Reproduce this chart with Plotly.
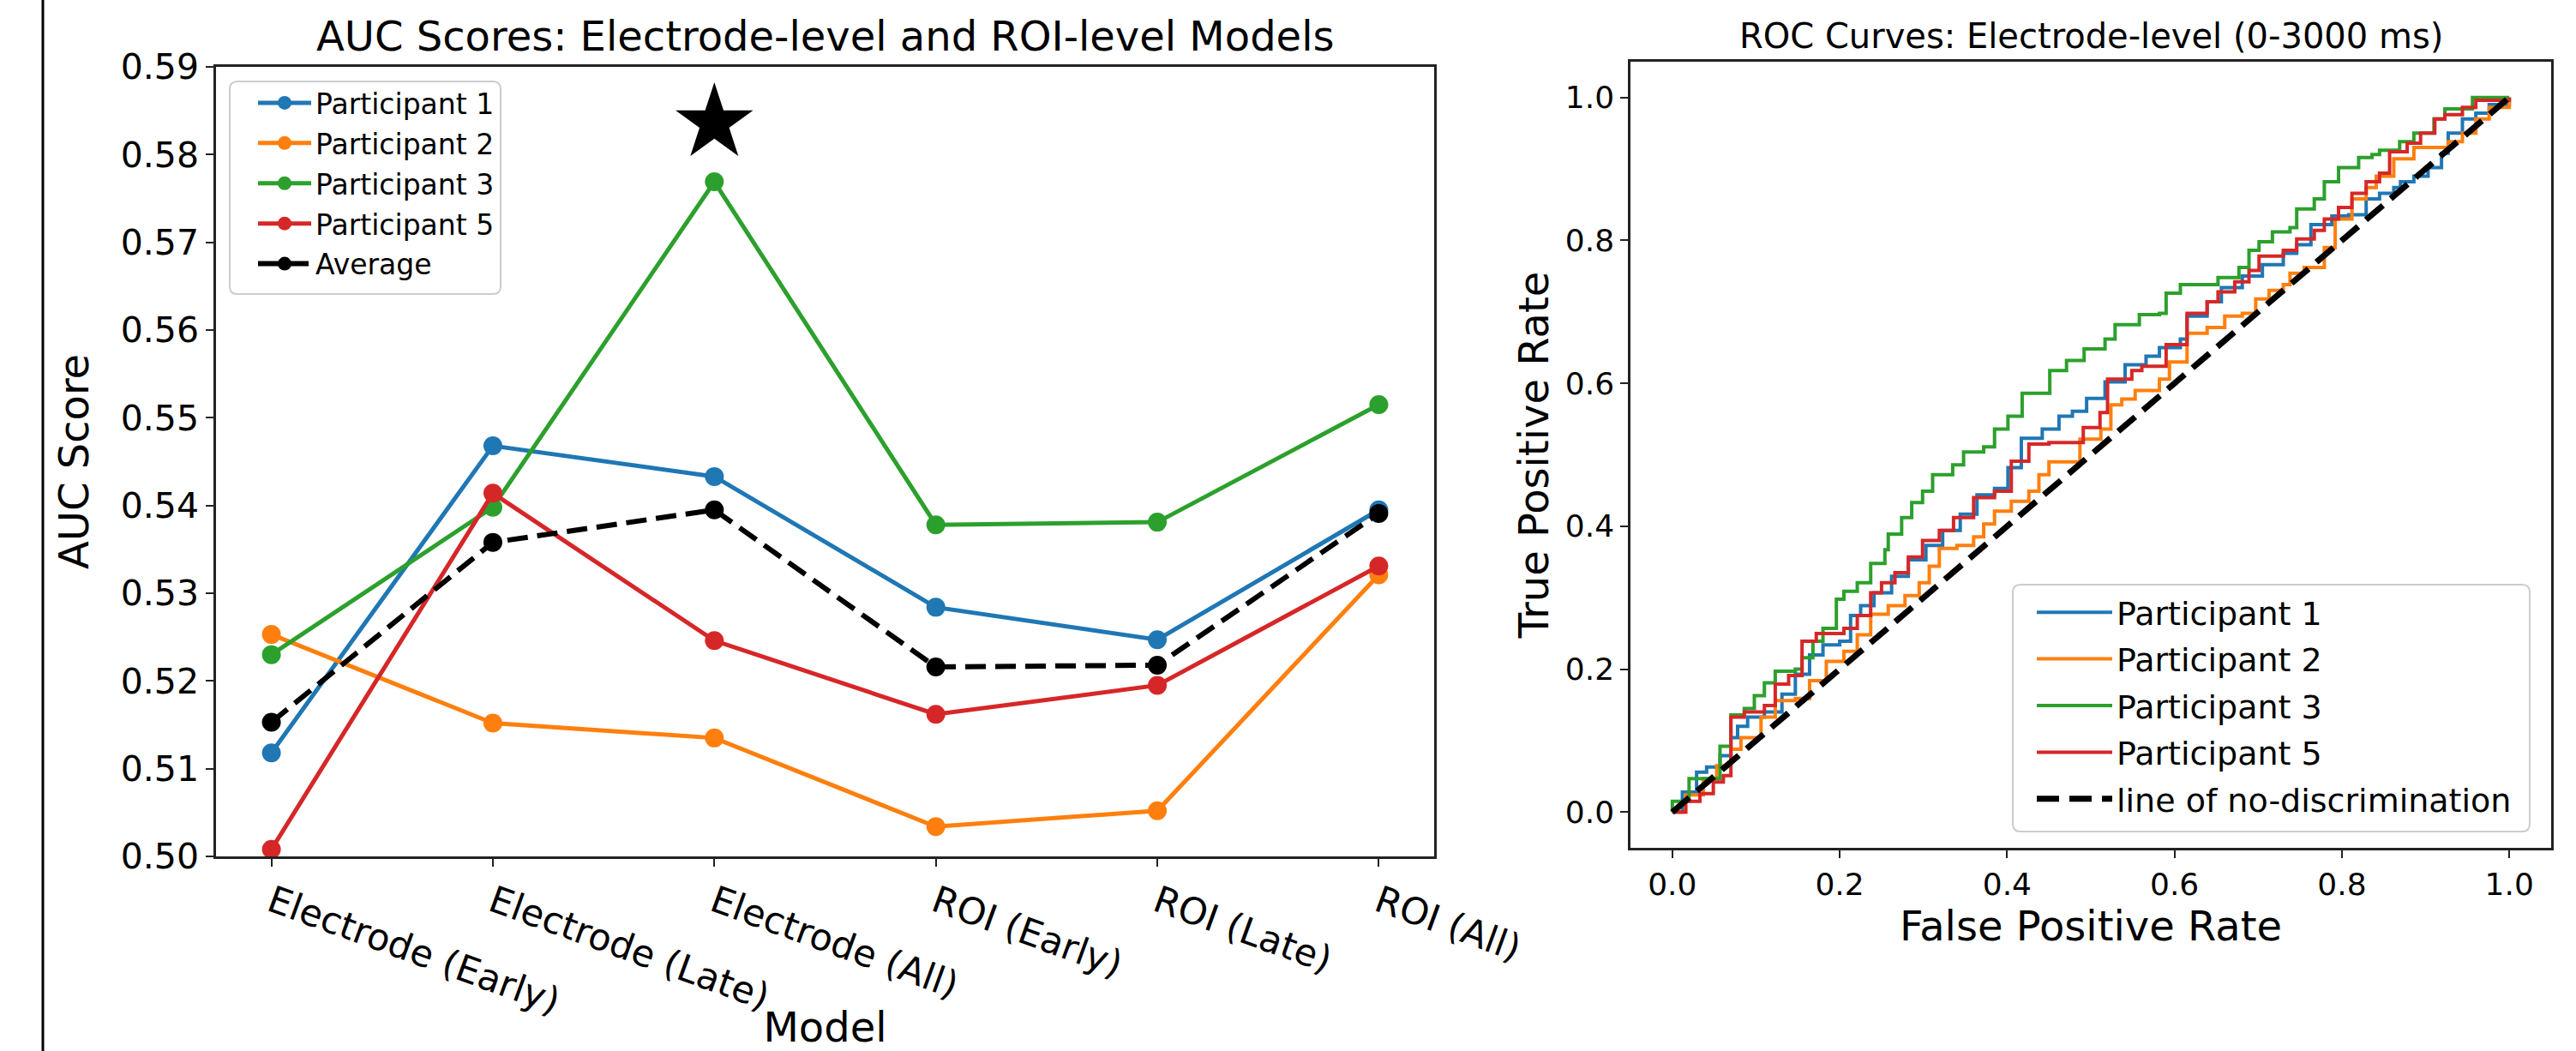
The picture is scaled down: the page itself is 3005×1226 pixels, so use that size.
import plotly.graph_objects as go

# ---------------- data: left panel (AUC scores) ----------------
models = ["Electrode (Early)", "Electrode (Late)", "Electrode (All)",
          "ROI (Early)", "ROI (Late)", "ROI (All)"]
auc_p1 = [0.5118, 0.5468, 0.5433, 0.5284, 0.5247, 0.5395]
auc_p2 = [0.5253, 0.5152, 0.5135, 0.5034, 0.5052, 0.5321]
auc_p3 = [0.5230, 0.5398, 0.5769, 0.5378, 0.5381, 0.5515]
auc_p5 = [0.5008, 0.5414, 0.5246, 0.5162, 0.5195, 0.5331]
auc_avg = [0.5153, 0.5358, 0.5395, 0.5216, 0.5218, 0.5391]
star_model = "Electrode (All)"
star_y = 0.5836
auc_yticks = [0.50, 0.51, 0.52, 0.53, 0.54, 0.55, 0.56, 0.57, 0.58, 0.59]

# ---------------- data: right panel (ROC curves) ----------------
roc_p1_fpr = [0.0, 0.012, 0.029, 0.041, 0.057, 0.070, 0.078, 0.090, 0.110, 0.131, 0.147, 0.164,
              0.180, 0.200, 0.213, 0.225, 0.241, 0.262, 0.282, 0.303, 0.323, 0.344, 0.364, 0.385,
              0.401, 0.417, 0.442, 0.462, 0.478, 0.495, 0.517, 0.541, 0.566, 0.582, 0.607, 0.615,
              0.639, 0.656, 0.681, 0.705, 0.730, 0.746, 0.763, 0.788, 0.808, 0.829, 0.845, 0.862,
              0.870, 0.886, 0.903, 0.919, 0.927, 0.944, 0.960, 0.976, 1.0]
roc_p1_tpr = [0.0, 0.028, 0.056, 0.063, 0.079, 0.104, 0.120, 0.133, 0.140, 0.165, 0.193, 0.220,
              0.234, 0.239, 0.275, 0.289, 0.307, 0.330, 0.353, 0.373, 0.394, 0.417, 0.444, 0.453,
              0.482, 0.523, 0.536, 0.554, 0.561, 0.579, 0.602, 0.626, 0.638, 0.650, 0.662, 0.694,
              0.714, 0.734, 0.750, 0.766, 0.782, 0.794, 0.822, 0.834, 0.836, 0.858, 0.866, 0.874,
              0.882, 0.890, 0.902, 0.922, 0.950, 0.970, 0.978, 0.990, 1.0]

roc_p2_fpr = [0.0, 0.016, 0.037, 0.053, 0.070, 0.082, 0.098, 0.106, 0.123, 0.147, 0.164, 0.184,
              0.205, 0.221, 0.237, 0.258, 0.278, 0.295, 0.307, 0.319, 0.340, 0.360, 0.372, 0.385,
              0.405, 0.426, 0.438, 0.450, 0.475, 0.487, 0.512, 0.524, 0.537, 0.553, 0.582, 0.594,
              0.615, 0.639, 0.660, 0.681, 0.697, 0.713, 0.730, 0.738, 0.755, 0.767, 0.779, 0.792,
              0.812, 0.829, 0.841, 0.862, 0.886, 0.927, 0.944, 0.960, 0.976, 1.0]
roc_p2_tpr = [0.0, 0.024, 0.047, 0.065, 0.088, 0.104, 0.104, 0.133, 0.156, 0.159, 0.184, 0.211,
              0.225, 0.248, 0.277, 0.289, 0.303, 0.321, 0.344, 0.369, 0.373, 0.385, 0.403, 0.421,
              0.435, 0.449, 0.472, 0.490, 0.490, 0.522, 0.536, 0.570, 0.578, 0.590, 0.606, 0.630,
              0.670, 0.678, 0.694, 0.698, 0.718, 0.730, 0.738, 0.754, 0.762, 0.762, 0.790, 0.830,
              0.858, 0.874, 0.890, 0.914, 0.930, 0.938, 0.950, 0.970, 0.986, 1.0]

roc_p3_fpr = [0.0, 0.0, 0.020, 0.057, 0.070, 0.086, 0.098, 0.110, 0.123, 0.147, 0.155, 0.168,
              0.180, 0.196, 0.205, 0.221, 0.237, 0.254, 0.258, 0.270, 0.274, 0.286, 0.299, 0.311,
              0.335, 0.348, 0.372, 0.385, 0.401, 0.418, 0.451, 0.471, 0.492, 0.517, 0.529, 0.558,
              0.582, 0.590, 0.607, 0.644, 0.652, 0.677, 0.689, 0.701, 0.717, 0.738, 0.746, 0.767,
              0.779, 0.796, 0.820, 0.836, 0.845, 0.869, 0.886, 0.910, 0.923, 0.956, 1.0]
roc_p3_tpr = [0.0, 0.015, 0.047, 0.092, 0.136, 0.145, 0.163, 0.181, 0.197, 0.200, 0.216, 0.239,
              0.257, 0.298, 0.309, 0.321, 0.348, 0.367, 0.389, 0.389, 0.412, 0.433, 0.449, 0.472,
              0.486, 0.504, 0.511, 0.536, 0.554, 0.586, 0.618, 0.632, 0.648, 0.662, 0.682, 0.696,
              0.698, 0.726, 0.738, 0.738, 0.748, 0.762, 0.786, 0.798, 0.812, 0.818, 0.844, 0.858,
              0.882, 0.902, 0.916, 0.920, 0.926, 0.938, 0.950, 0.970, 0.984, 1.0, 1.0]

roc_p5_fpr = [0.0, 0.016, 0.033, 0.049, 0.061, 0.070, 0.086, 0.110, 0.123, 0.139, 0.155, 0.172,
              0.205, 0.221, 0.237, 0.250, 0.266, 0.282, 0.299, 0.319, 0.336, 0.360, 0.385, 0.405,
              0.426, 0.450, 0.491, 0.511, 0.520, 0.549, 0.561, 0.590, 0.615, 0.639, 0.652, 0.672,
              0.689, 0.701, 0.730, 0.746, 0.767, 0.779, 0.796, 0.812, 0.829, 0.845, 0.857, 0.878,
              0.894, 0.911, 0.923, 0.944, 0.960, 1.0]
roc_p5_tpr = [0.0, 0.015, 0.026, 0.042, 0.051, 0.133, 0.140, 0.149, 0.179, 0.191, 0.239, 0.250,
              0.257, 0.275, 0.307, 0.321, 0.335, 0.357, 0.380, 0.394, 0.412, 0.440, 0.449, 0.491,
              0.515, 0.517, 0.538, 0.559, 0.606, 0.618, 0.624, 0.654, 0.698, 0.714, 0.728, 0.742,
              0.758, 0.778, 0.786, 0.802, 0.814, 0.830, 0.846, 0.866, 0.882, 0.894, 0.924, 0.936,
              0.950, 0.970, 0.976, 0.986, 0.996, 1.0]

chance_x = [0.0, 1.0]
chance_y = [0.0, 1.0]
roc_ticks = [0.0, 0.2, 0.4, 0.6, 0.8, 1.0]

# ---------------- styling ----------------
W, H = 3005, 1226
C_BLUE, C_ORANGE, C_GREEN, C_RED = "#1f77b4", "#ff7f0e", "#2ca02c", "#d62728"
FONT = "DejaVu Sans"

def px_x(p):
    return p / W

def px_y(p):
    return 1 - p / H

def rounded_box(x0, y0, x1, y1, r=9):
    """Rounded rectangle path in paper coords from pixel box (top-left origin)."""
    rx, ry = r / W, r / H
    X0, X1 = px_x(x0), px_x(x1)
    Yt, Yb = px_y(y0), px_y(y1)
    return (f"M{X0 + rx},{Yt} L{X1 - rx},{Yt} Q{X1},{Yt} {X1},{Yt - ry} "
            f"L{X1},{Yb + ry} Q{X1},{Yb} {X1 - rx},{Yb} L{X0 + rx},{Yb} "
            f"Q{X0},{Yb} {X0},{Yb + ry} L{X0},{Yt - ry} Q{X0},{Yt} {X0 + rx},{Yt} Z")

L_DOM_X = [px_x(252), px_x(1673)]
L_DOM_Y = [px_y(999), px_y(78)]
R_DOM_X = [px_x(1902), px_x(2976)]
R_DOM_Y = [px_y(989), px_y(72)]

fig = go.Figure()

left_series = [
    ("Participant 1", auc_p1, C_BLUE, None, 5),
    ("Participant 2", auc_p2, C_ORANGE, None, 5),
    ("Participant 3", auc_p3, C_GREEN, None, 5),
    ("Participant 5", auc_p5, C_RED, None, 5),
    ("Average", auc_avg, "black", "24px,11px", 6),
]
for i, (name, vals, col, dash, lw) in enumerate(left_series):
    fig.add_trace(go.Scatter(
        x=models, y=vals, name=name, mode="lines+markers",
        line=dict(color=col, width=lw, dash=dash if dash else "solid"),
        marker=dict(color=col, size=22),
        xaxis="x", yaxis="y", legend="legend", legendgroup=f"l{i}",
    ))

fig.add_trace(go.Scatter(
    x=[star_model], y=[star_y], mode="markers", showlegend=False,
    marker=dict(symbol="star", size=68, color="black"),
    xaxis="x", yaxis="y", hoverinfo="skip",
))

right_series = [
    ("Participant 1", roc_p1_fpr, roc_p1_tpr, C_BLUE),
    ("Participant 2", roc_p2_fpr, roc_p2_tpr, C_ORANGE),
    ("Participant 3", roc_p3_fpr, roc_p3_tpr, C_GREEN),
    ("Participant 5", roc_p5_fpr, roc_p5_tpr, C_RED),
]
for i, (name, fx, ty, col) in enumerate(right_series):
    fig.add_trace(go.Scatter(
        x=fx, y=ty, name=name, mode="lines",
        line=dict(color=col, width=4, shape="hv"),
        xaxis="x2", yaxis="y2", legend="legend2", legendgroup=f"r{i}",
    ))
fig.add_trace(go.Scatter(
    x=chance_x, y=chance_y, name="line of no-discrimination", mode="lines",
    line=dict(color="black", width=7, dash="26px,12px"),
    xaxis="x2", yaxis="y2", legend="legend2", legendgroup="r9",
))

axis_common = dict(
    showgrid=False, zeroline=False, showline=True, mirror=True, automargin=False,
    linecolor="#222", linewidth=2.5, ticks="outside", ticklen=9, tickwidth=2,
    tickcolor="#222",
)

fig.update_layout(
    width=W, height=H,
    margin=dict(l=0, r=0, t=0, b=0, autoexpand=False),
    paper_bgcolor="white", plot_bgcolor="white",
    font=dict(family=FONT, color="black"),
    xaxis=dict(
        domain=L_DOM_X, anchor="y", type="category",
        categoryorder="array", categoryarray=models,
        range=[-0.25, len(models) - 0.75], tickangle=20,
        tickfont=dict(size=43),
        title=dict(text="Model", font=dict(size=48), standoff=8),
        **axis_common,
    ),
    yaxis=dict(
        domain=L_DOM_Y, anchor="x", range=[0.50, 0.59],
        tickvals=auc_yticks, tickformat=".2f", tickfont=dict(size=41),
        title=dict(text="AUC Score", font=dict(size=48), standoff=22),
        **axis_common,
    ),
    xaxis2=dict(
        domain=R_DOM_X, anchor="y2", range=[-0.05, 1.05],
        tickvals=roc_ticks, tickformat=".1f", tickfont=dict(size=36),
        title=dict(text="False Positive Rate", font=dict(size=48), standoff=0),
        **axis_common,
    ),
    yaxis2=dict(
        domain=R_DOM_Y, anchor="x2", range=[-0.05, 1.05],
        tickvals=roc_ticks, tickformat=".1f", tickfont=dict(size=36),
        title=dict(text="True Positive Rate", font=dict(size=48), standoff=4),
        **axis_common,
    ),
    legend=dict(
        x=px_x(296), y=px_y(92), xanchor="left", yanchor="top",
        bgcolor="rgba(0,0,0,0)", borderwidth=0,
        font=dict(size=33, color="black"), itemwidth=62,
        tracegroupgap=1,
    ),
    legend2=dict(
        x=px_x(2371), y=px_y(683), xanchor="left", yanchor="top",
        bgcolor="rgba(0,0,0,0)", borderwidth=0,
        font=dict(size=38, color="black"), itemwidth=88,
        tracegroupgap=2,
    ),
    showlegend=True,
    annotations=[
        dict(text="AUC Scores: Electrode-level and ROI-level Models",
             x=(L_DOM_X[0] + L_DOM_X[1]) / 2, y=px_y(42), xref="paper", yref="paper",
             xanchor="center", yanchor="middle", showarrow=False,
             font=dict(size=48, family=FONT, color="black")),
        dict(text="ROC Curves: Electrode-level (0-3000 ms)",
             x=(R_DOM_X[0] + R_DOM_X[1]) / 2, y=px_y(42), xref="paper", yref="paper",
             xanchor="center", yanchor="middle", showarrow=False,
             font=dict(size=40, family=FONT, color="black")),
    ],
    shapes=[
        dict(type="line", xref="paper", yref="paper",
             x0=px_x(50), x1=px_x(50), y0=0, y1=1,
             line=dict(color="black", width=3)),
        dict(type="path", xref="paper", yref="paper", layer="above",
             path=rounded_box(268, 95, 584, 343),
             fillcolor="rgba(255,255,255,0.8)", line=dict(color="#cccccc", width=2)),
        dict(type="path", xref="paper", yref="paper", layer="above",
             path=rounded_box(2348, 682, 2951, 970),
             fillcolor="rgba(255,255,255,0.8)", line=dict(color="#cccccc", width=2)),
    ],
)

fig.write_html("out.html", config={"displayModeBar": False},
               post_script="document.body.style.margin='0';document.body.style.overflow='hidden';")
